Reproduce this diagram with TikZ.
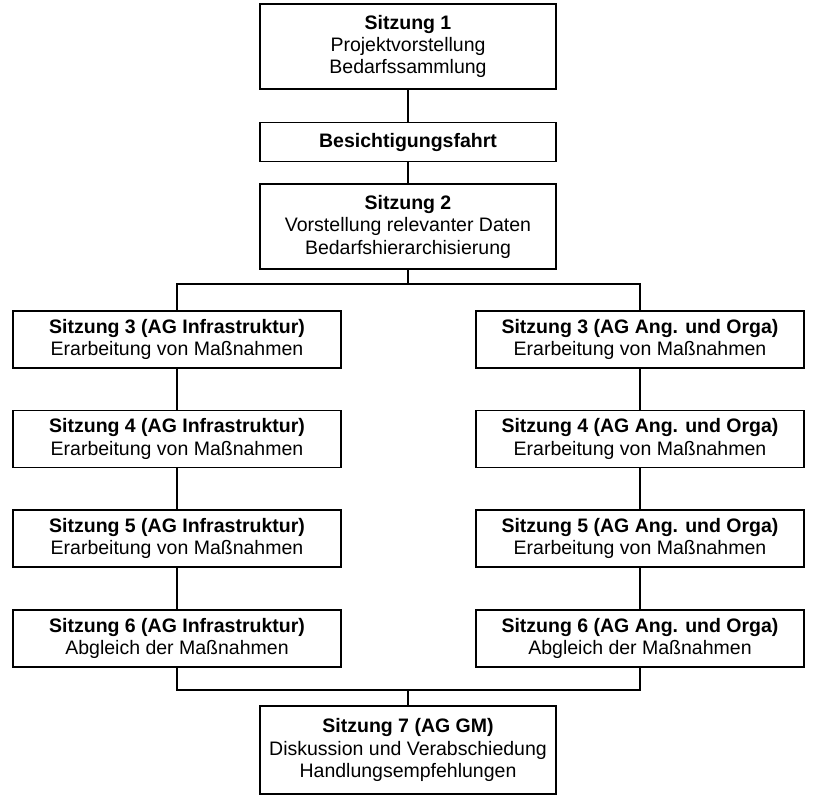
\documentclass[tikz,border=0pt]{standalone}
\usepackage{fontspec}
\setmainfont{Liberation Sans}
\usetikzlibrary{positioning, calc}

\begin{document}
\begin{tikzpicture}[
    x=1pt, y=1pt,
    node distance=10pt,
    font=\fontsize{9.75}{11.2}\selectfont,
    mainbox/.style={rectangle, minimum width=148pt, minimum height=42.5pt, align=center, draw=black, thick},
    agbox/.style={rectangle, minimum width=164pt, minimum height=28.5pt, align=center, draw=black, thick},
    link/.style={thick}
]
    \useasboundingbox (0,0) rectangle (409.5,-405.5);

    \node (s1) [mainbox] at (204,-23.25) {\textbf{Sitzung 1}\\Projektvorstellung\\Bedarfssammlung};
    \node (trip) [mainbox, minimum height=19.5pt, below=16pt of s1] {\textbf{Besichtigungsfahrt}};
    \node (s2) [mainbox, below=10.5pt of trip] {\textbf{Sitzung 2}\\Vorstellung relevanter Daten\\Bedarfshierarchisierung};

    \node (inf3) [agbox] at (88.5,-169.75) {\textbf{Sitzung 3 (AG Infrastruktur)}\\Erarbeitung von Maßnahmen};
    \node (inf4) [agbox, below=20.5pt of inf3] {\textbf{Sitzung 4 (AG Infrastruktur)}\\Erarbeitung von Maßnahmen};
    \node (inf5) [agbox, below=20.5pt of inf4] {\textbf{Sitzung 5 (AG Infrastruktur)}\\Erarbeitung von Maßnahmen};
    \node (inf6) [agbox, below=20.5pt of inf5] {\textbf{Sitzung 6 (AG Infrastruktur)}\\Abgleich der Maßnahmen};

    \node (org3) [agbox] at (320,-169.75) {\textbf{Sitzung 3 (AG Ang. und Orga)}\\Erarbeitung von Maßnahmen};
    \node (org4) [agbox, below=20.5pt of org3] {\textbf{Sitzung 4 (AG Ang. und Orga)}\\Erarbeitung von Maßnahmen};
    \node (org5) [agbox, below=20.5pt of org4] {\textbf{Sitzung 5 (AG Ang. und Orga)}\\Erarbeitung von Maßnahmen};
    \node (org6) [agbox, below=20.5pt of org5] {\textbf{Sitzung 6 (AG Ang. und Orga)}\\Abgleich der Maßnahmen};

    \node (s7) [mainbox, minimum height=44pt] at (204,-375) {\textbf{Sitzung 7 (AG GM)}\\Diskussion und Verabschiedung\\Handlungsempfehlungen};

    \coordinate (split) at (204,-142);
    \coordinate (join) at (204,-345);

    \draw [link] (s1) -- (trip);
    \draw [link] (trip) -- (s2);
    \draw [link] (s2) -- (split);
    \draw [link] (split) -| (inf3);
    \draw [link] (split) -| (org3);
    \draw [link] (inf3) -- (inf4);
    \draw [link] (inf4) -- (inf5);
    \draw [link] (inf5) -- (inf6);
    \draw [link] (org3) -- (org4);
    \draw [link] (org4) -- (org5);
    \draw [link] (org5) -- (org6);
    \draw [link] (inf6) |- (join);
    \draw [link] (org6) |- (join);
    \draw [link] (join) -- (s7);
\end{tikzpicture}
\end{document}
